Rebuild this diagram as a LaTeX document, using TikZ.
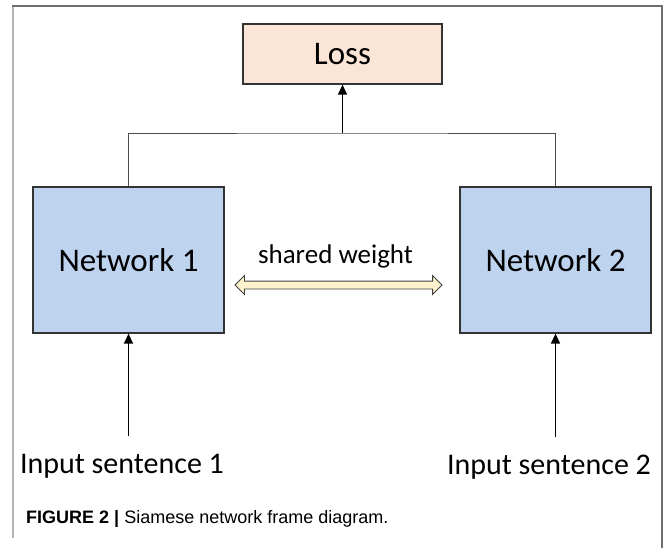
\documentclass[tikz,border=0pt]{standalone}
\usepackage{fontspec}
\setmainfont{Carlito}
\newfontfamily\capfont{Liberation Sans}
\usetikzlibrary{arrows, arrows.meta, shapes.arrows}
\definecolor{lossfill}{HTML}{FBE5D6}
\definecolor{netfill}{HTML}{BDD3EE}
\definecolor{weightfill}{HTML}{FFF2CC}
\definecolor{framegray}{HTML}{6E6E6E}
\definecolor{leftgray}{HTML}{B4B4B4}

\begin{document}
\begin{tikzpicture}[x=1pt, y=-1pt,
    netbox/.style={draw=black!80, line width=1.2pt, fill=netfill, minimum width=191pt, minimum height=146pt, font=\fontsize{33}{40}\selectfont},
    lossbox/.style={draw=black!80, line width=1.2pt, fill=lossfill, minimum width=199pt, minimum height=60pt, font=\fontsize{33}{40}\selectfont},
    inputtext/.style={font=\fontsize{30}{36}\selectfont, inner sep=0pt, anchor=base},
    feed/.style={-{Triangle[length=10pt, width=9pt]}, line width=1.3pt},
    link/.style={draw=black!70, line width=0.8pt}]

    \useasboundingbox (0,0) rectangle (666,548);

    % frame
    \draw[leftgray, line width=1.8pt] (13,6) -- (13,538);
    \draw[framegray, line width=1.4pt] (12,6) -- (662,6) -- (662,548);

    % boxes
    \node[lossbox] (loss) at (342.5,54) {Loss};
    \node[netbox] (net1) at (128.5,260) {Network 1};
    \node[netbox] (net2) at (555.5,260) {Network 2};

    \node[inputtext] (in1) at (122,473) {Input sentence 1};
    \node[inputtext] (in2) at (549,474) {Input sentence 2};

    % shared weight
    \node[anchor=base, inner sep=0pt, font=\fontsize{27}{32}\selectfont] (shared) at (335.5,263) {shared weight};
    \node[double arrow, draw=black!75, line width=0.9pt, fill=weightfill, inner xsep=0pt, inner ysep=3.5pt,
          minimum height=207pt, double arrow head extend=5.5pt] (weight) at (338.5,285) {};

    % connectors
    \coordinate (merge) at (342.5,133);
    \draw[link] (net1.north) |- (merge) -| (net2.north);
    \draw[feed] (merge) -- (loss.south);
    \draw[feed] ([yshift=17pt]in1.north -| net1.south) -- (net1.south);
    \draw[feed] ([yshift=17pt]in2.north -| net2.south) -- (net2.south);

    % caption
    \node[anchor=base west, inner sep=0pt, font=\capfont\fontsize{18}{22}\selectfont] (caption) at (26,523)
        {\textbf{FIGURE 2 |} Siamese network frame diagram.};
\end{tikzpicture}
\end{document}
